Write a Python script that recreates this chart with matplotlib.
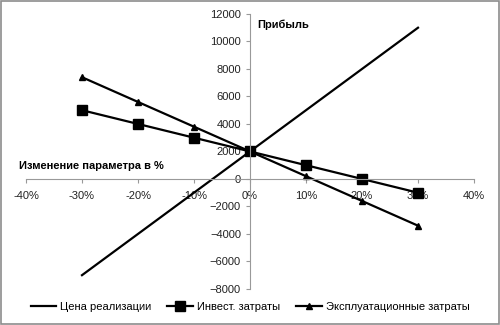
import matplotlib
matplotlib.use("Agg")
import matplotlib.pyplot as plt
from matplotlib.patches import Rectangle

# change of parameter, %
change = [-30, -20, -10, 0, 10, 20, 30]

price = [-7000, -4000, -1000, 2000, 5000, 8000, 11000]
invest = [5000, 4000, 3000, 2000, 1000, 0, -1000]
operating = [7400, 5600, 3800, 2000, 200, -1600, -3400]

labels = ["Цена реализации", "Инвест. затраты", "Эксплуатационные затраты"]
x_ticks = [-40, -30, -20, -10, 0, 10, 20, 30, 40]
y_ticks = [-8000, -6000, -4000, -2000, 0, 2000, 4000, 6000, 8000, 10000, 12000]

plt.rcParams['font.family'] = ['Liberation Sans', 'DejaVu Sans']

fig = plt.figure(figsize=(5, 3.25), dpi=100)
ax = fig.add_axes([0.052, 0.111, 0.896, 0.846])

ax.plot(change, price, color='black', lw=1.6, label=labels[0])
ax.plot(change, invest, color='black', lw=1.6, marker='s', ms=6.5, label=labels[1])
ax.plot(change, operating, color='black', lw=1.6, marker='^', ms=5, label=labels[2])

ax.set_xlim(-40, 40)
ax.set_ylim(-8000, 12000)
ax.set_xticks(x_ticks)
ax.set_xticklabels([f"{t}%" for t in x_ticks])
ax.set_yticks(y_ticks)

for s in ['top', 'right']:
    ax.spines[s].set_visible(False)
ax.spines['left'].set_position(('data', 0))
ax.spines['bottom'].set_position(('data', 0))
for s in ['left', 'bottom']:
    ax.spines[s].set_color('#999999')
    ax.spines[s].set_linewidth(0.8)
ax.tick_params(axis='both', colors='#999999', labelcolor='#222222', labelsize=8, length=3, width=0.8)
ax.tick_params(axis='x', pad=6)

ax.text(1.3, 11200, "Прибыль", fontsize=8, fontweight='bold', va='center')
ax.text(-41.2, 950, "Изменение параметра в %", fontsize=8, fontweight='bold', va='center')

fig.legend(loc='center', bbox_to_anchor=(0.5, 0.055), ncol=3, frameon=False,
           fontsize=8, handlelength=2.3, columnspacing=1.45, handletextpad=0.35)

fig.patches.append(Rectangle((0.002, 0.003), 0.996, 0.994, transform=fig.transFigure,
                             fill=False, edgecolor='#8c8c8c', lw=1.2))

fig.savefig("out.png", dpi=100)
